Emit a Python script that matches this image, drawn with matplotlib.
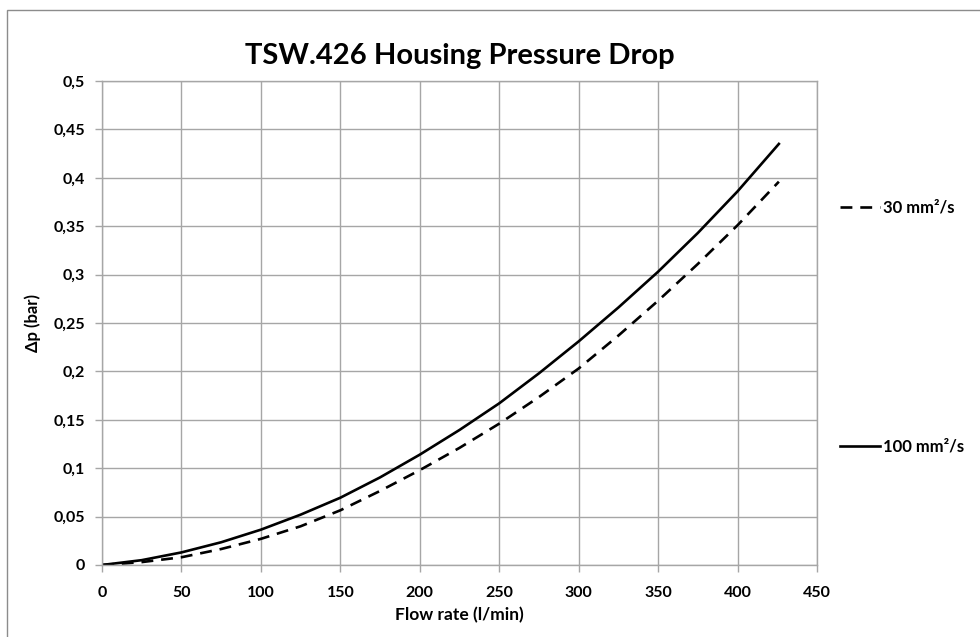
import matplotlib.pyplot as plt
from matplotlib.patches import Rectangle

plt.rcParams['font.family'] = ['Lato', 'DejaVu Sans']
plt.rcParams['font.weight'] = 'bold'

# values
flow = [0, 25, 50, 75, 100, 125, 150, 175, 200, 225, 250, 275, 300, 325, 350, 375, 400, 426]
dp_30 = [0, 0.003, 0.008, 0.0165, 0.027, 0.040, 0.0565, 0.0765, 0.098, 0.121, 0.146,
         0.1735, 0.203, 0.237, 0.273, 0.311, 0.351, 0.396]
dp_100 = [0, 0.005, 0.013, 0.0235, 0.0365, 0.052, 0.0695, 0.0905, 0.114, 0.1395, 0.167,
          0.198, 0.231, 0.266, 0.303, 0.343, 0.386, 0.435]
x_ticks = [0, 50, 100, 150, 200, 250, 300, 350, 400, 450]
y_ticks = [0, 0.05, 0.1, 0.15, 0.2, 0.25, 0.3, 0.35, 0.4, 0.45, 0.5]
y_labels = ['0', '0,05', '0,1', '0,15', '0,2', '0,25', '0,3', '0,35', '0,4', '0,45', '0,5']

W, H = 980, 637
fig = plt.figure(figsize=(W / 100, H / 100), dpi=100)
ax = fig.add_axes([102 / W, 1 - 565 / H, (817 - 102) / W, (565 - 81) / H])

grid_c = '#a6a6a6'
l30, = ax.plot(flow, dp_30, color='black', lw=1.9, dashes=(4.5, 3))
l100, = ax.plot(flow, dp_100, color='black', lw=1.9)

ax.set_xlim(0, 450)
ax.set_ylim(0, 0.5)
ax.set_xticks(x_ticks)
ax.set_xticklabels([str(v) for v in x_ticks])
ax.set_yticks(y_ticks)
ax.set_yticklabels(y_labels)
ax.grid(True, color=grid_c, lw=1.0)
ax.set_axisbelow(True)
for s in ax.spines.values():
    s.set_color(grid_c)
    s.set_linewidth(1.0)
ax.tick_params(direction='out', length=5, width=1.0, color=grid_c, labelsize=11.5)
ax.tick_params(axis='x', pad=10)
ax.tick_params(axis='y', pad=7)
for t in ax.get_xticklabels() + ax.get_yticklabels():
    t.set_fontweight('bold')

ax.set_title('TSW.426 Housing Pressure Drop', fontsize=21, fontweight='bold', pad=12)
ax.set_xlabel('Flow rate (l/min)', fontsize=12.5, fontweight='bold', labelpad=5)
ax.set_ylabel('Δp (bar)', fontsize=12, fontweight='bold', labelpad=9)

# two separate legend entries on the right, like the reference
leg_font = {'weight': 'bold', 'size': 12}
leg1 = ax.legend([l30], ['30 mm²/s'], loc='center left', frameon=False,
                 bbox_to_anchor=(825 / W, 1 - 208 / H), bbox_transform=fig.transFigure,
                 handlelength=2.4, handletextpad=0.15, prop=leg_font)
ax.add_artist(leg1)
ax.legend([l100], ['100 mm²/s'], loc='center left', frameon=False,
          bbox_to_anchor=(825 / W, 1 - 447 / H), bbox_transform=fig.transFigure,
          handlelength=2.4, handletextpad=0.15, prop=leg_font)

# chart area border
fig.patches.append(Rectangle((7 / W, -0.1), 1.2, 1.1 - 9.5 / H, transform=fig.transFigure,
                             fill=False, edgecolor='#8c8c8c', lw=1.0))

fig.savefig('out.png', dpi=100)
